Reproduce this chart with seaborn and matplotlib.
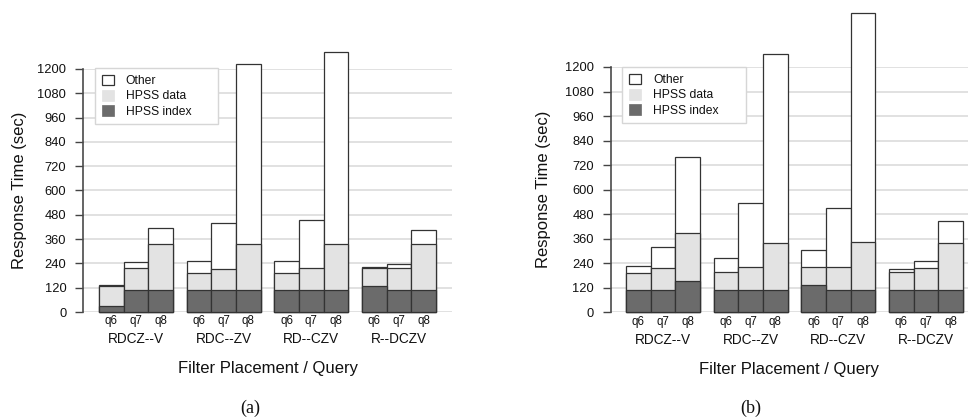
import numpy as np
import pandas as pd
import seaborn as sns
import matplotlib
matplotlib.use("Agg")
import matplotlib.pyplot as plt
from matplotlib.patches import Patch
from matplotlib import transforms

# ---------------- data ----------------
queries = ["q6", "q7", "q8"]
placements = ["RDCZ--V", "RDC--ZV", "RD--CZV", "R--DCZV"]
series_names = ["Other", "HPSS data", "HPSS index"]
y_ticks = [0, 120, 240, 360, 480, 600, 720, 840, 960, 1080, 1200]

# panel (a) components (sec), order: placement x query
a_index = [30, 108, 108, 108, 108, 108, 107, 107, 107, 130, 107, 107]
a_data = [98, 111, 228, 86, 106, 228, 85, 111, 230, 85, 108, 230]
a_other = [4, 26, 77, 56, 227, 889, 62, 237, 948, 7, 23, 69]

# panel (b) components (sec)
b_index = [107, 111, 155, 107, 107, 107, 132, 107, 107, 107, 107, 107]
b_data = [87, 107, 231, 91, 113, 233, 88, 113, 236, 90, 111, 230]
b_other = [34, 101, 373, 67, 317, 925, 83, 288, 1123, 16, 34, 112]

# ---------------- style ----------------
sns.set_style("white")
plt.rcParams["font.family"] = ["Liberation Sans", "DejaVu Sans"]

C_INDEX = "#6b6b6b"
C_DATA = "#e3e3e3"
C_OTHER = "#ffffff"
EDGE = "#333333"
GRID = "#dcdcdc"
TXT = "#111111"

GROUP_STEP = 3.554


def positions():
    pos = []
    for g in range(len(placements)):
        for i in range(len(queries)):
            pos.append(g * GROUP_STEP + i)
    return np.array(pos)


def draw_panel(ax, idx, dat, oth, xlim, legend_box, ylabel_x):
    pos = positions()
    idx = np.array(idx, float)
    dat = np.array(dat, float)
    oth = np.array(oth, float)
    df = pd.DataFrame({
        "pos": pos,
        "index": idx,
        "data_top": idx + dat,
        "total": idx + dat + oth,
    })
    for col, colr in [("total", C_OTHER), ("data_top", C_DATA), ("index", C_INDEX)]:
        sns.barplot(data=df, x="pos", y=col, native_scale=True, width=1.0,
                    color=colr, saturation=1, edgecolor=EDGE, linewidth=0.9,
                    errorbar=None, ax=ax)
    for p in ax.patches:
        p.set_clip_on(False)

    ax.set_ylim(0, 1200)
    ax.set_xlim(*xlim)
    ax.set_yticks(y_ticks)
    ax.set_yticklabels([str(t) for t in y_ticks])
    ax.set_xticks(pos)
    ax.set_xticklabels(queries * len(placements))
    ax.yaxis.grid(True, color=GRID, linewidth=1.2)
    ax.xaxis.grid(False)
    ax.set_axisbelow(True)
    for s in ["top", "right", "bottom"]:
        ax.spines[s].set_visible(False)
    ax.spines["left"].set_color("#4a4a4a")
    ax.spines["left"].set_linewidth(1.2)
    ax.tick_params(axis="y", length=6, width=1, color="#444444", pad=6,
                   labelsize=9.3, labelcolor=TXT, left=True)
    ax.tick_params(axis="x", length=0, pad=2.5, labelsize=8.3, labelcolor=TXT)

    trans = transforms.blended_transform_factory(ax.transData, ax.transAxes)
    for g, name in enumerate(placements):
        ax.text(g * GROUP_STEP + 1, -0.111, name, transform=trans,
                ha="center", va="center", fontsize=9.8, color=TXT)

    ax.set_xlabel("Filter Placement / Query", fontsize=12, color=TXT,
                  va="center")
    ax.xaxis.set_label_coords(0.5, -0.232)
    ax.set_ylabel("Response Time (sec)", fontsize=12, color=TXT,
                  va="center")
    ax.yaxis.set_label_coords(ylabel_x, 0.5)

    handles = [
        Patch(facecolor=C_OTHER, edgecolor=EDGE, linewidth=0.9),
        Patch(facecolor=C_DATA, edgecolor=C_DATA, linewidth=0.5),
        Patch(facecolor=C_INDEX, edgecolor=C_INDEX, linewidth=0.5),
    ]
    leg = ax.legend(handles, series_names, loc="upper left",
                    bbox_to_anchor=legend_box, mode="expand", borderaxespad=0,
                    fontsize=8.7, frameon=True, fancybox=False,
                    handlelength=1.0, handleheight=1.0, handletextpad=1.0,
                    labelspacing=0.22, borderpad=0.55)
    leg.get_frame().set_edgecolor("#d6d6d6")
    leg.get_frame().set_linewidth(1.0)
    leg.get_frame().set_facecolor("white")
    leg.get_frame().set_alpha(1.0)
    for t in leg.get_texts():
        t.set_color(TXT)


fig = plt.figure(figsize=(9.68, 4.19), dpi=100)
ax_a = fig.add_axes([83 / 968, 1 - 312 / 419, 369 / 968, 243 / 419])
ax_b = fig.add_axes([610.7 / 968, 1 - 312.3 / 419, 357.3 / 968, 245.3 / 419])

draw_panel(ax_a, a_index, a_data, a_other, (-1.15, 13.81),
           (0.0325, 0.778, 0.333, 0.226), -0.173)
draw_panel(ax_b, b_index, b_data, b_other, (-1.12, 13.36),
           (0.0325, 0.776, 0.345, 0.224), -0.189)

fig.text(250 / 968, 1 - 408 / 419, "(a)", family="Liberation Serif",
         fontsize=13, ha="center", va="center", color=TXT)
fig.text(750.5 / 968, 1 - 408 / 419, "(b)", family="Liberation Serif",
         fontsize=13, ha="center", va="center", color=TXT)

fig.savefig("out.png", dpi=100)
